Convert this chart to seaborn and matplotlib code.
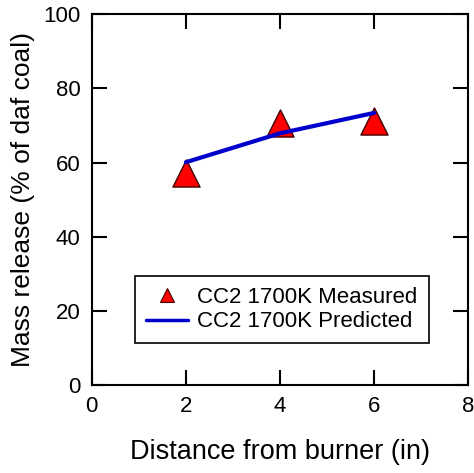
import matplotlib
matplotlib.use("Agg")
import matplotlib.pyplot as plt
from matplotlib.lines import Line2D
import seaborn as sns
import pandas as pd

# Data
meas_x = [2, 4, 6]
meas_y = [57.2, 70.6, 71.2]
pred_x = [2, 4, 6]
pred_y = [60.1, 67.9, 73.4]
meas_label = "CC2 1700K Measured"
pred_label = "CC2 1700K Predicted"
x_ticks = [0, 2, 4, 6, 8]
y_ticks = [0, 20, 40, 60, 80, 100]
x_label = "Distance from burner (in)"
y_label = "Mass release (% of daf coal)"

sns.set_theme(style="white")
plt.rcParams['font.family'] = ['Liberation Sans', 'DejaVu Sans']
plt.rcParams['text.color'] = 'black'
plt.rcParams['axes.labelcolor'] = 'black'

fig = plt.figure(figsize=(4.74, 4.73), dpi=100)
ax = fig.add_axes([0.1935, 0.186, 0.7945, 0.7838])

df_m = pd.DataFrame({"x": meas_x, "y": meas_y})
df_p = pd.DataFrame({"x": pred_x, "y": pred_y})

sns.lineplot(data=df_p, x="x", y="y", ax=ax, color="#0000cc", linewidth=3, zorder=3)
sns.scatterplot(data=df_m, x="x", y="y", ax=ax, marker="^", s=380, color="#ff0000",
                edgecolor="#400000", linewidth=1.0, zorder=2)

ax.set_xlim(0, 8)
ax.set_ylim(0, 100)
ax.set_xticks(x_ticks)
ax.set_yticks(y_ticks)
ax.tick_params(direction="in", length=11, width=1.5, labelsize=16, colors="black",
               top=True, right=True, bottom=True, left=True, pad=8)
for s in ax.spines.values():
    s.set_color("black")
    s.set_linewidth(1.5)
ax.set_xlabel(x_label, fontsize=19.5, labelpad=16)
ax.set_ylabel(y_label, fontsize=19, labelpad=6)

handles = [
    Line2D([], [], marker="^", ls="", color="#ff0000", markeredgecolor="#400000",
           markeredgewidth=0.8, markersize=10),
    Line2D([], [], color="#0000cc", linewidth=2.5),
]
leg = ax.legend(handles, [meas_label, pred_label], loc="lower left",
                bbox_to_anchor=(0.115, 0.112), fontsize=16, frameon=True,
                fancybox=False, edgecolor="black", framealpha=1,
                borderpad=0.5, labelspacing=0.15, handlelength=1.9,
                handletextpad=0.4, borderaxespad=0)
leg.get_frame().set_linewidth(1.2)

fig.savefig("out.png", dpi=100)
